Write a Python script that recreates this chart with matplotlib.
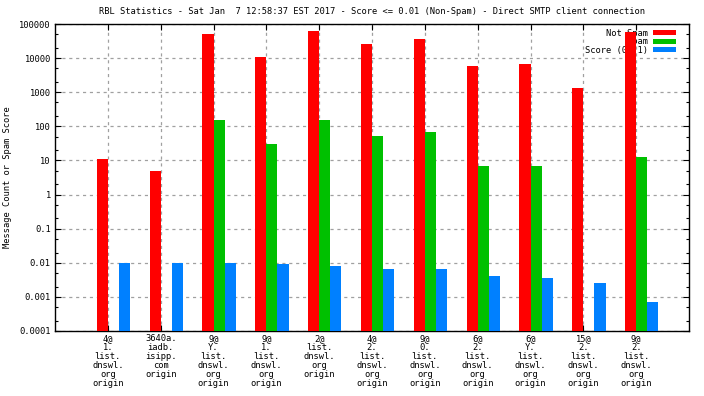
"""
RBL statistics bar chart (log scale), gnuplot-style look.
"""
import matplotlib
matplotlib.use("Agg")
import matplotlib.pyplot as plt
import matplotlib.ticker as mticker
import numpy as np

# ---------------------------------------------------------------------------
# Data
# ---------------------------------------------------------------------------
CATEGORIES = [
    "4@\n1.\nlist.\ndnswl.\norg\norigin",
    "3640a.\niadb.\nisipp.\ncom\norigin",
    "9@\nY.\nlist.\ndnswl.\norg\norigin",
    "9@\n1.\nlist.\ndnswl.\norg\norigin",
    "2@\nlist.\ndnswl.\norg\norigin",
    "4@\n2.\nlist.\ndnswl.\norg\norigin",
    "9@\n0.\nlist.\ndnswl.\norg\norigin",
    "6@\n2.\nlist.\ndnswl.\norg\norigin",
    "6@\nY.\nlist.\ndnswl.\norg\norigin",
    "15@\n2.\nlist.\ndnswl.\norg\norigin",
    "9@\n2.\nlist.\ndnswl.\norg\norigin",
]
not_spam = [11, 5, 52000, 11000, 63000, 26000, 37000, 5900, 6700, 1340, 59000]
spam     = [0, 0, 153, 30, 153, 52, 68, 6.8, 6.8, 0, 12.5]
score    = [0.010, 0.010, 0.010, 0.0093, 0.0082, 0.0064, 0.0064,
            0.0040, 0.0035, 0.0025, 0.00073]

TITLE = ("RBL Statistics - Sat Jan  7 12:58:37 EST 2017 - Score <= 0.01 "
         "(Non-Spam) - Direct SMTP client connection")

# ---------------------------------------------------------------------------
# Figure
# ---------------------------------------------------------------------------
FONT = "DejaVu Sans Mono"
FS = 6.3

plt.rcParams.update({
    "font.family": FONT,
    "font.size": FS,
    "axes.linewidth": 1.0,
    "xtick.direction": "in",
    "ytick.direction": "in",
})

fig = plt.figure(figsize=(7.04, 3.96), dpi=100)
ax = fig.add_axes([55 / 704, 65 / 396, 634 / 704, 307 / 396])

col_ns = "#ff0000"
col_sp = "#00c000"
col_sc = "#0080ff"

x = np.arange(1, len(CATEGORIES) + 1)
w = 0.21
ns = np.array(not_spam, dtype=float)
sp = np.array(spam, dtype=float)
sc = np.array(score, dtype=float)
bottom = 1e-4

ax.bar(x - w / 2, ns - bottom, w, bottom=bottom, color=col_ns,
       label="Not Spam", zorder=3)
sp_mask = sp > 0
ax.bar(x[sp_mask] + w / 2, sp[sp_mask] - bottom, w, bottom=bottom,
       color=col_sp, label="Spam", zorder=3)
ax.bar(x + 1.5 * w, sc - bottom, w, bottom=bottom, color=col_sc,
       label="Score (0..1)", zorder=3)

ax.set_yscale("log")
ax.set_ylim(1e-4, 1e5)
ax.set_xlim(0, len(CATEGORIES) + 1)

ax.yaxis.set_major_locator(mticker.LogLocator(base=10, numticks=20))
ax.yaxis.set_minor_locator(mticker.LogLocator(base=10, subs=(2, 5),
                                              numticks=20))
ax.yaxis.set_minor_formatter(mticker.NullFormatter())
ax.yaxis.set_major_formatter(mticker.FuncFormatter(
    lambda v, _: f"{v:g}" if v >= 1 else f"{v:.{int(round(-np.log10(v)))}f}"))

ax.set_xticks(x)
ax.set_xticklabels(CATEGORIES, linespacing=0.98, va="top")
ax.tick_params(axis="both", which="major", length=4, width=0.8,
               top=True, right=True, labelsize=FS, pad=3)
ax.tick_params(axis="y", which="minor", length=2, width=0.8, right=True)
ax.tick_params(axis="x", pad=2.5)

ax.grid(which="major", color="#a0a0a0", linestyle=(0, (2.5, 3)),
        linewidth=0.9, zorder=1)

ax.set_ylabel("Message Count or Spam Score", fontsize=FS, labelpad=5)
ax.set_title(TITLE, fontsize=FS, pad=7)

leg = ax.legend(loc="upper right", frameon=False, markerfirst=False,
                fontsize=FS, handlelength=2.6, handleheight=0.5,
                labelspacing=-0.08, borderaxespad=0.0, handletextpad=0.6,
                bbox_to_anchor=(0.985, 0.995))
leg.set_zorder(2)
for t in leg.get_texts():
    t.set_ha("right")

fig.savefig("out.png", dpi=100)
